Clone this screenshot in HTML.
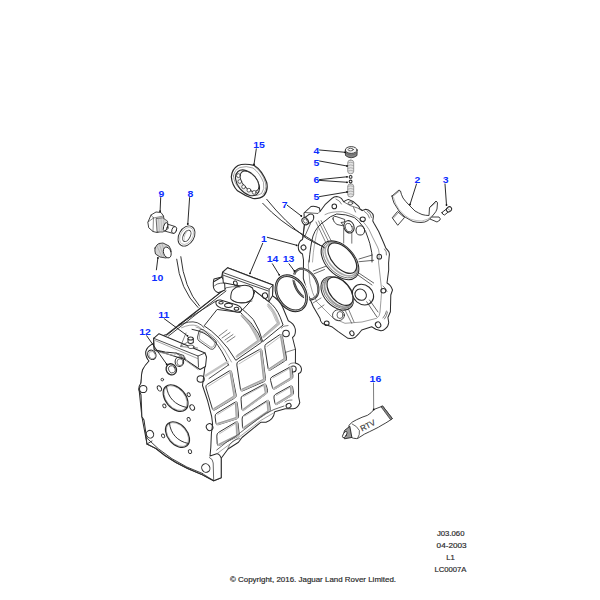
<!DOCTYPE html>
<html><head><meta charset="utf-8">
<style>
html,body{margin:0;padding:0;background:#fff;width:600px;height:600px;overflow:hidden}
svg{position:absolute;left:0;top:0}
.l{font-family:"Liberation Sans",sans-serif;font-weight:bold;font-size:8.6px;fill:#0c2eff}
.t{font-family:"Liberation Sans",sans-serif;font-size:7.6px;fill:#2a2a2a;stroke:#2a2a2a;stroke-width:0.18px}
</style></head><body>
<svg width="600" height="600" viewBox="0 0 600 600">
<g fill="none" stroke="#2b2b2b" stroke-width="0.9" stroke-linejoin="round" stroke-linecap="round" id="draw">
<!-- bearing 15 -->
<g>
<path fill="#fff" d="M231.3 176.7Q232 169 238 165.5Q244 163 254.2 165.4Q262 170 266.7 182.5Q268.5 190 264 195.5Q260 199 253 198.5Q245 196 237.5 190.8Q232 185 231.3 176.7Z" stroke-width="1.20"/>
<path d="M233.5 176Q234.5 169.5 240 167.5Q246 165.5 253 168Q260 173 263.5 182.5Q265 189 261.5 193.5Q257.5 196.5 251.5 195.5Q244 193 239 188Q234 183 233.5 176Z" stroke-width="0.60" stroke="#666"/>
<path d="M254.5 166.5Q262.5 172 265.5 183Q267 190 263 194.5" stroke-width="0.60" stroke="#666"/>
<ellipse cx="247.5" cy="182.8" rx="14.8" ry="9.6" transform="rotate(50 247.5 182.8)" fill="#eee" stroke-width="1.08"/>
<ellipse cx="249.5" cy="181.3" rx="12" ry="7" transform="rotate(50 249.5 181.3)" fill="#fff" stroke-width="0.96"/>
<g fill="#fff" stroke-width="0.72"><circle cx="238.4" cy="175.6" r="1.9"/><circle cx="239.8" cy="181.5" r="1.9"/><circle cx="243.6" cy="186.8" r="1.9"/><circle cx="248.9" cy="190.2" r="1.9"/><circle cx="254.2" cy="192.4" r="1.9"/></g>
</g>
<!-- part 4 cap -->
<g>
<path d="M345.3 150.5L345.5 155.5Q351 160 357 155.5L357.1 150.5Z" fill="#888" stroke="#333"/>
<path d="M345.5 153Q351 157.5 357 153" stroke="#555" stroke-width="0.60"/>
<ellipse cx="351.2" cy="150" rx="5.9" ry="3.4" fill="#f4f4f4" stroke="#333"/>
<ellipse cx="350.7" cy="149.6" rx="2.6" ry="1.3" stroke-width="0.72" fill="#fff"/>
</g>
<!-- springs -->
<g>
<rect x="347.7" y="160" width="6" height="13.800000000000011" rx="3" ry="2.5" fill="#e4e4e4" stroke="#777" stroke-width="0.72"/>
<path d="M348 162.8Q350.7 161.5 353.4 162.8M348 165.5Q350.7 164.2 353.4 165.5M348 168.3Q350.7 167.0 353.4 168.3M348 171.0Q350.7 169.7 353.4 171.0" stroke="#888" stroke-width="0.60"/>
<rect x="347.7" y="183.8" width="6" height="13.199999999999989" rx="3" ry="2.5" fill="#e4e4e4" stroke="#777" stroke-width="0.72"/>
<path d="M348 186.4Q350.7 185.1 353.4 186.4M348 189.1Q350.7 187.8 353.4 189.1M348 191.7Q350.7 190.4 353.4 191.7M348 194.4Q350.7 193.1 353.4 194.4" stroke="#888" stroke-width="0.60"/>
<circle cx="350.6" cy="176.9" r="1.4" fill="#fff" stroke-width="1.08"/>
<circle cx="350.6" cy="181.5" r="1.4" fill="#fff" stroke-width="1.08"/>
</g>
<!-- part 2 bracket -->
<g fill="#fff">
<path d="M392.5 217.5L397.5 211.5L404.5 217.5L398 225Z"/>
<path fill="none" d="M393.5 218L398 213" stroke-width="0.48"/>
<path d="M431 217L439 217Q441 219 440 220L437 222L430 219Z"/>
<path d="M392 196L399 190L400.5 191Q401 194 403 198Q405.5 201.5 409 205Q412 208 415 211Q418.5 213 422 214.5Q425.5 215.5 429 215.5L429.5 207.5L436 201L437.5 202.5L437 209Q436 212 434 214Q431 218 428 220.5Q425 222.5 421 222.5Q417 222.5 413 221.5Q409 219.5 405 217Q402 214.5 399 211Q396.5 207 394 203Q392.5 199 392 196Z"/>
<path fill="none" d="M393.5 197.5Q395 204 399 209.5Q404 215.5 410 219Q416 221 422 221Q428 220 432 216" stroke-width="0.48" stroke="#777"/>
<path fill="none" d="M392.5 196.5L399.5 191M429.5 208L436.5 202" stroke-width="0.48"/>
</g>
<!-- part 3 screw -->
<g fill="#fff" stroke-width="0.96">
<path d="M442 212.5L447 208.5L449.5 211L444.5 215Q442 214.5 442 212.5Z"/>
<ellipse cx="449" cy="209.3" rx="2.8" ry="2.3" transform="rotate(-40 449 209.3)"/>
<path d="M447.5 208.5L450 210.5" stroke-width="0.48"/>
</g>
<!-- bolt 9 -->
<g fill="#fff">
<path d="M164 223L175 226.5L173.5 233.5L164.5 231Z"/>
<ellipse cx="174.2" cy="230" rx="2.3" ry="3.6" transform="rotate(20 174.2 230)"/>
<path d="M148 222L151 215L156 212L161 212.5L163.5 216L164.3 222L164 230L157 232.5L153 231.5L149 228Z"/>
<path fill="none" d="M151 215L153.5 218L161 216.5L163.5 216M153.5 218L153 231.5M148 222L153.5 218" stroke-width="0.54"/>
<path d="M156.5 218.5L162.5 217.8L167.5 221L168.3 228.5L163 232L157.5 232Z" fill="#d8d8d8" stroke-width="0.72"/>
<path fill="none" d="M158.5 218.5L159.5 232M161 218L162 232M163.5 218.5L164.5 231.5" stroke-width="0.42" stroke="#999"/>
<ellipse cx="165.5" cy="226.8" rx="1.9" ry="4.3" transform="rotate(15 165.5 226.8)"/>
</g>
<!-- washer 8 -->
<g>
<ellipse cx="186.5" cy="236" rx="10.8" ry="7.6" transform="rotate(-60 186.5 236)" fill="#fff"/>
<ellipse cx="186.6" cy="235.9" rx="9.2" ry="6" transform="rotate(-60 186.6 235.9)" stroke-width="0.48" stroke="#888"/>
<ellipse cx="186.8" cy="235.8" rx="6.2" ry="3.4" transform="rotate(-62 186.8 235.8)" fill="#fff"/>
<path d="M184 240.5Q183.5 234 188.5 230" stroke-width="0.60" stroke="#999"/>
</g>
<!-- plug 10 -->
<g>
<path d="M155 248Q157 244 159 243.5L163 243L169 246L171 250L170 256L166 258L160 257L155.5 254Q154.5 251 155 248Z" fill="#d4d4d4"/>
<path d="M157 246L162 257M159.5 244.5L164 257.5M162 243.5L166 257" stroke-width="0.42" stroke="#888"/>
<ellipse cx="167.3" cy="252.5" rx="3.7" ry="5.6" transform="rotate(-20 167.3 252.5)" fill="#fff"/>
</g>
<!-- tube 16 -->
<g fill="#fff">
<path d="M349.1 425.1Q352 421.5 356.7 419.7Q362 417 367.5 415.3Q371.5 413 374 409.4L382.7 406.1L392.4 418.6Q389 421 385.9 422.9Q382 425 378.3 427.3Q374 429.5 369.7 431.6Q364 434 359.9 437Q358 438.5 356.7 438.6Q353 438.5 351.3 437.5Z"/>
<path d="M382.7 406.1L392.4 418.6L390.6 419.8L381.2 407Z" fill="#888" stroke-width="0.72"/>
<path fill="none" d="M352.3 424Q357 426 359.4 430.5Q360 434.5 357.8 438" stroke-width="0.72"/>
<path d="M349.5 426.5L344.5 430.5Q342.5 435 344.5 438.8L351.5 437.5Z" fill="#999" stroke-width="0.96"/>
<ellipse cx="344.8" cy="434.6" rx="1.6" ry="3.6" transform="rotate(30 344.8 434.6)" fill="#fff" stroke-width="0.84"/>
<text x="0" y="0" font-family="Liberation Sans" font-size="8" fill="#3a3a3a" stroke="#3a3a3a" stroke-width="0.18" transform="translate(362 431.5) rotate(-27)">RTV</text>
</g>

<!-- cover -->
<g id="cover" stroke-width="1.02">
<path fill="#fff" d="M303.5 260L302.5 254Q298 251.5 298.3 246.5Q298.8 241 302.5 239.5L304.5 224L304 213L311 206.5Q315 205.5 319.5 208L320 211.5L321.5 209.5L325 204.7L332 198.3Q334 196.5 336.7 196.5Q339.5 196.8 341.3 198.3L343.7 201.8L345.4 200.6L348.3 199.4L353.6 201.8L358.8 206.4L360 208.8L362.3 210.5L365.8 209.3Q368.5 209.5 370.5 211.7Q373.5 214 373.4 216.3L372.8 221L374 223.3L378.7 231.5L383.3 242L385.7 247.8L388.6 251.3Q389.8 254 389.2 256L388.6 263L388.7 270L387 283Q391 285 392.5 290L390.8 295L390.4 311.7L387.9 317.5L388.75 322.5Q388 327 385.8 328.3Q383 331 380.8 330.8L375.8 329.2L371.7 326.7L361.7 330L358.3 334.2L355 337.5Q352 338.8 348 338.3L338.3 331.7L331.7 326.7L322.5 323.5Q320 321 320 318.3L313.3 306.7L308.3 295L303.3 278.3Z"/>
<path d="M305 212.5L318 213.5L320 211.5" stroke-width="0.72"/>
<path d="M304.5 224L303 238M310.5 223.5L304.5 237" stroke-width="0.72"/>
<ellipse cx="303.5" cy="247.5" rx="2.4" ry="2.5" transform="rotate(-30 303.5 247.5)"/>
<!-- pin 7 -->
<path fill="#fff" d="M302.3 219.5L308.5 214.8Q311.5 213 313.5 215.5Q314.5 219 312 221.5L306.5 224.8Z"/>
<ellipse cx="305.2" cy="221.2" rx="3" ry="3.7" transform="rotate(-35 305.2 221.2)" fill="#fff"/>
<ellipse cx="305.4" cy="221" rx="1.8" ry="2.3" transform="rotate(-35 305.4 221)" stroke-width="0.60"/>
<!-- inner flange -->
<path d="M325 214.6Q328 213 332 212.3Q337 211.5 342.5 211.7Q349 213 354.2 215.8Q359 218.5 363.5 222.2Q366.5 225.5 369 229.5L372.5 237L377.5 247Q379 250 379 252.5Q379.2 255 379 258.3L378.5 262L381.7 290Q381 300 380 312Q380 316 376.7 318.3L362 322L345 323.3L333.3 318.3L316.7 301.7Q312 293 310 283.3L308.3 265L309 260" stroke-width="0.72" stroke="#777"/>
<path d="M309 262Q310.5 245 313 236Q316.5 226 325 221Q330 216 336.7 214Q346 214 354.2 217.5Q359 221 362.5 226Q366 231 368 238Q370 243 371 249Q372 253 372 256L372 262" stroke-width="0.96"/>
<path d="M318 229Q314 241 312.5 262" stroke-width="0.60" stroke="#777"/>
<path d="M316 222L326 243M318.5 221L328.5 241.5M321 220.5L331 240.5" stroke-width="0.60"/>
<!-- holes on flange -->
<ellipse cx="334.3" cy="206.4" rx="2.3" ry="2.3"/>
<ellipse cx="350.4" cy="203.2" rx="2.4" ry="1.4" stroke-width="0.72"/>
<ellipse cx="362.7" cy="219.3" rx="2.6" ry="2.3"/>
<ellipse cx="379.3" cy="256.7" rx="2.3" ry="2.4"/>
<ellipse cx="383.3" cy="290.8" rx="2.5" ry="2.2"/>
<ellipse cx="378.1" cy="324.8" rx="2.6" ry="3" transform="rotate(-30 378.1 324.8)"/>
<ellipse cx="351.9" cy="333.3" rx="2" ry="2.5" transform="rotate(-30 351.9 333.3)"/>
<ellipse cx="326.7" cy="323.3" rx="2.4" ry="2.3"/>
<path d="M336 199Q340 200.5 341.5 204M364.5 211.5Q368.5 213.5 369.5 218M367 210.8Q371 213 371.5 217.5" stroke-width="0.60"/>
<path d="M383 286Q386 288 387 291.5M384.5 249Q387 251.5 386.5 255M383 318Q385.5 315 386.5 311M384.5 319Q387 316 387.5 312" stroke-width="0.60"/>
<path d="M344 202L350 205.5L357.5 208L362 210.5M353.5 207.5L355.5 212" stroke-width="0.66"/>
<!-- slot + bosses top -->
<path d="M333 219Q332.5 216 336 216.5L344.8 219.5L344.5 222L341 222.5L344 226L337 224.5Q333.5 222.5 333 219Z" stroke-width="0.84"/>
<path d="M343.7 228V243M351.8 231V243.2" stroke-width="0.66"/>
<ellipse cx="349" cy="226.8" rx="5" ry="6.3" transform="rotate(-20 349 226.8)" fill="#fff"/>
<ellipse cx="348.8" cy="227.6" rx="3.3" ry="4.4" transform="rotate(-20 348.8 227.6)" stroke-width="0.72"/>
<ellipse cx="360.3" cy="230.4" rx="4.3" ry="4.7"/>
<!-- big upper hole -->
<ellipse cx="340" cy="260.3" rx="23" ry="14.2" transform="rotate(47 340 260.3)" fill="#fff" stroke-width="1.08"/>
<ellipse cx="340.4" cy="259.9" rx="21.6" ry="13" transform="rotate(47 340.4 259.9)" stroke-width="0.60"/>
<ellipse cx="341.2" cy="259.2" rx="20" ry="11.6" transform="rotate(47 341.2 259.2)" stroke-width="1.56" stroke="#aaa"/>
<ellipse cx="342.3" cy="258.2" rx="18.4" ry="10" transform="rotate(48 342.3 258.2)" fill="#fff" stroke-width="1.20"/>
<!-- lower hole -->
<ellipse cx="337.3" cy="293.3" rx="19.5" ry="13" transform="rotate(47 337.3 293.3)" fill="#fff" stroke-width="1.08"/>
<ellipse cx="337.7" cy="293" rx="18.2" ry="11.8" transform="rotate(47 337.7 293)" stroke-width="0.60"/>
<ellipse cx="338.8" cy="292.2" rx="17.5" ry="11" transform="rotate(48 338.8 292.2)" stroke-width="1.92" stroke="#999"/>
<ellipse cx="340" cy="291.3" rx="16.5" ry="9.8" transform="rotate(50 340 291.3)" fill="#fff" stroke-width="1.20"/>
<!-- small boss -->
<ellipse cx="363" cy="294.6" rx="11.3" ry="9.6" transform="rotate(40 363 294.6)" fill="#fff"/>
<ellipse cx="360.7" cy="294.7" rx="6" ry="5.3" transform="rotate(40 360.7 294.7)"/>
<ellipse cx="338.5" cy="315.2" rx="6" ry="5.5" stroke-width="0.84"/>
<ellipse cx="340" cy="315" rx="3" ry="3.5" stroke-width="0.72"/>
<!-- ribs -->

<path d="M359 259L372.3 255M359 261.7L373.7 260.3M357.7 272.3L373.7 283M356.5 274L372 285" stroke-width="0.72"/>

<path d="M313.3 271L325.7 266.3M314 273.8L324.5 269.5" stroke-width="0.72"/>
<path d="M366.7 301.7L376.7 316.7M369.5 300L378 312" stroke-width="0.72"/>
<path d="M345 310L351.7 323.3M348 308L354 322" stroke-width="0.60"/>
<path d="M313 303L321 298M318 309L324 305" stroke-width="0.60"/>
</g>

<!-- o-ring 13 -->
<g>
<ellipse cx="306" cy="284" rx="16.5" ry="10.7" transform="rotate(60 306 284)" stroke-width="2.2" stroke="#333"/>
<ellipse cx="306" cy="284" rx="16.5" ry="10.7" transform="rotate(60 306 284)" stroke-width="0.7" stroke="#aaa"/>
<path d="M294 283Q297 291 302 295" stroke-width="0.6" stroke="#333"/>
</g>
<!-- o-ring 14 -->
<g>
<ellipse cx="291.25" cy="293.25" rx="19" ry="13.8" transform="rotate(58 291.25 293.25)" stroke-width="5" stroke="#fff"/>
<ellipse cx="291.25" cy="293.25" rx="18.9" ry="13.7" transform="rotate(58 291.25 293.25)" stroke-width="2.6" stroke="#222"/>
<ellipse cx="291.25" cy="293.25" rx="18.9" ry="13.7" transform="rotate(58 291.25 293.25)" stroke-width="0.8" stroke="#bbb"/>
</g>

<!-- housing -->
<g id="housing" stroke-width="1.02">
<path fill="#fff" d="M153.7 338.3L166.7 334.5L225.3 288.7L214 286Q213 281 214 279L221.7 277L222.5 272.4L227.5 267.8L272.9 285L272.5 295.8Q279 300 282.5 306.7L288.3 320.7Q294 323.5 295.3 329Q296 335.5 292.5 337.5L295.5 349.5L295.4 363Q301 364.5 301.5 369Q301.5 373 298.5 373.5L298.6 396.7L299.8 402.5Q298 408.3 293.3 408.8L285.2 408.8L274.7 411.8Q273.5 420 266 422.3L260.7 422.3L242 437.5L238.5 442.2L228 449L221.2 458.2L221.2 477.7L213.7 480.7L202.5 474.7Q173 463.5 156 448.5L147 444L141.9 416.7L139 389L141 383L142.5 370L149 361Q145.5 357 146 352Q147 347 153.5 344Z"/>
<path d="M166.7 335.3L225.3 288.7M168.5 336L226 291M178.7 324.7L216 301" stroke-width="0.90"/>
<!-- W1 -->
<path d="M217.5 309.5L240.5 312.5Q252 322 258 333Q261 339 261.5 342.3L235.8 360.3Q228 347 219 338Q211 330 204.5 326Z" stroke-width="0.96"/>
<path d="M241.8 315.5Q251 324 256 334Q258.8 339 259 341L236.8 356.5" stroke-width="2.40" stroke="#bdbdbd"/>
<path d="M242.5 317Q250.5 325 255 335L257.5 340.5L237.5 355" stroke-width="0.48" stroke="#777"/>
<!-- W2 -->
<path d="M242.8 309.6Q250 303 253.3 296L255 291L268.8 301.7Q276 307 280.2 317.2L283.1 325L262.7 341.7Q260 330 253.3 319.5Q247 313 242.8 309.6Z" stroke-width="0.96"/>
<path d="M268.3 304.5Q274.5 311 277.5 320L279 323.5L263.3 336.8" stroke-width="2.40" stroke="#bdbdbd"/>
<path d="M267.5 306Q273.3 312 276 321L277.3 323L264 335" stroke-width="0.48" stroke="#777"/>
<!-- arc1 band double line -->
<path d="M196 327Q209 331 217 340Q225 349 231.5 362" stroke-width="0.54" stroke="#555"/>
<!-- rear flange inner -->
<path d="M282.7 337.5L285 349.5L286.5 360" stroke-width="0.60"/>
<path d="M285 352.5L294.7 349.5M285.7 352.5L286.5 360" stroke-width="0.60"/>
<ellipse cx="286" cy="333.5" rx="3.3" ry="3.3"/>
<ellipse cx="293.2" cy="369" rx="3" ry="3"/>
<ellipse cx="288.6" cy="405.7" rx="2.6" ry="2.2" transform="rotate(-30 288.6 405.7)"/>
<path d="M281.3 328Q283 325.5 288 325.5M288.7 365Q290 362.5 295.4 363M285 402Q286.5 400 292 400" stroke-width="0.60"/>
<path d="M236.8 364.7Q236.5 362.5 238.4 361.4L259.6 349.4Q261.5 348.3 261.8 350.5L265.5 378.6Q265.8 380.8 263.8 381.7L242.8 390.8Q240.8 391.7 240.5 389.5Z" stroke-width="0.96"/>
<path d="M260.8 349.8L264.4 379.8L241.6 390.2" stroke-width="2.40" stroke="#bdbdbd"/>
<path d="M239.0 363.9L260.3 350.9L263.4 379.2L242.1 389.1" stroke-width="0.48" stroke="#777"/>
<path d="M264.8 347.2Q264.5 345.0 266.3 343.8L279.7 334.7Q281.5 333.5 281.9 335.7L286.1 357.8Q286.5 360.0 284.6 361.2L270.4 370.0Q268.5 371.2 268.2 369.0Z" stroke-width="0.96"/>
<path d="M281.0 335.1L285.1 359.1L269.1 369.6" stroke-width="2.40" stroke="#bdbdbd"/>
<path d="M266.9 346.6L280.6 336.3L284.1 358.4L269.5 368.5" stroke-width="0.48" stroke="#777"/>
<path d="M205.9 387.6Q205.3 385.5 207.2 384.4L229.3 370.9Q231.2 369.8 231.6 372.0L236.1 394.8Q236.5 397.0 234.6 398.1L214.9 409.9Q213.0 411.0 212.4 408.9Z" stroke-width="0.96"/>
<path d="M230.5 371.3L234.9 396.4L213.7 409.4" stroke-width="2.40" stroke="#bdbdbd"/>
<path d="M208.1 386.4L230.0 372.4L233.8 395.9L214.1 408.3" stroke-width="0.48" stroke="#777"/>
<path d="M241.0 398.9Q240.8 396.7 242.7 395.7L263.9 384.3Q265.8 383.3 266.3 385.4L267.5 390.4Q268.0 392.5 266.2 393.8L243.8 410.0Q242.0 411.3 241.8 409.1Z" stroke-width="0.96"/>
<path d="M264.6 384.6L266.4 392.9L243.1 410.0" stroke-width="2.40" stroke="#bdbdbd"/>
<path d="M243.7 396.5L263.8 385.4L265.2 393.2L243.8 409.0" stroke-width="0.48" stroke="#777"/>
<path d="M270.5 380.1Q270.0 378.0 271.9 376.9L289.8 367.1Q291.7 366.0 292.0 368.2L292.9 375.8Q293.2 378.0 291.3 379.1L274.9 388.9Q273.0 390.0 272.5 387.9Z" stroke-width="0.96"/>
<path d="M290.6 367.3L291.5 378.0L274.0 388.6" stroke-width="2.40" stroke="#bdbdbd"/>
<path d="M272.9 378.0L289.9 368.3L290.3 378.0L274.7 387.7" stroke-width="0.48" stroke="#777"/>
<path d="M215.1 416.5Q214.9 414.3 216.8 413.2L235.2 402.1Q237.1 401.0 237.3 403.2L238.6 416.1Q238.8 418.3 236.7 418.9L218.2 424.7Q216.1 425.3 215.9 423.1Z" stroke-width="0.96"/>
<path d="M236.1 402.4L237.2 417.8L217.3 424.1" stroke-width="2.40" stroke="#bdbdbd"/>
<path d="M217.8 414.4L235.4 403.3L236.0 417.5L218.2 423.3" stroke-width="0.48" stroke="#777"/>
<path d="M242.1 418.7Q242.0 416.5 243.9 415.3L266.9 400.8Q268.8 399.6 269.2 401.8L270.2 408.5Q270.6 410.7 268.8 411.9L244.4 428.1Q242.6 429.3 242.5 427.1Z" stroke-width="0.96"/>
<path d="M267.7 400.9L268.9 411.1L243.7 428.0" stroke-width="2.40" stroke="#bdbdbd"/>
<path d="M244.9 416.0L266.9 401.8L267.8 411.3L244.5 427.1" stroke-width="0.48" stroke="#777"/>
<path d="M273.9 397.7Q273.5 395.5 275.4 394.4L290.3 386.1Q292.2 385.0 292.6 387.2L293.4 392.1Q293.8 394.3 291.9 395.4L277.2 404.3Q275.3 405.4 274.9 403.2Z" stroke-width="0.96"/>
<path d="M291.1 386.3L292.1 394.4L276.4 404.1" stroke-width="2.40" stroke="#bdbdbd"/>
<path d="M276.4 395.4L290.3 387.2L290.9 394.5L277.1 403.1" stroke-width="0.48" stroke="#777"/>
<path d="M216.8 435.7Q216.7 433.5 218.6 432.4L235.8 422.1Q237.7 421.0 238.0 423.2L239.1 433.6Q239.4 435.8 237.4 436.7L219.3 445.4Q217.3 446.3 217.2 444.1Z" stroke-width="0.96"/>
<path d="M236.7 422.4L237.7 435.6L218.4 445.0" stroke-width="2.40" stroke="#bdbdbd"/>
<path d="M219.6 433.7L236.0 423.3L236.5 435.4L219.2 444.1" stroke-width="0.48" stroke="#777"/>
<!-- bottom ridge -->
<path d="M284 406L274 409.5Q265 413 258 419L240.5 432.5Q236 437 228 441L216.7 450" stroke-width="0.72"/>
<path d="M273.5 413L260.7 420.5L243.2 434L238 438Q230 444 217.5 453.3" stroke-width="0.54" stroke="#555"/>
<path d="M228 448Q231 439.5 240 438.5" stroke-width="0.60"/>
<!-- hatch -->
<path d="M219 336L227 330M222 338L230 332.5M225 340L233 334.5M227 342L235 336.5" stroke-width="0.60"/>
<!-- rear boss -->
<path fill="#fff" d="M213.3 282L221.7 277L224.5 281L225 290L218.3 292.8Q213.5 291 213.3 286Z"/>
<path d="M214.2 286.2Q216 283 224 283" stroke-width="0.72"/>
<!-- rear bar -->
<path fill="#fff" d="M222.5 272.4L227.5 267.8L272.9 285L272.5 295.8L268.8 301.7L255 290.8L241.7 286.2L223.3 282.8Z"/>
<path d="M222.5 272.4L269.2 289.2L272.9 285M269.2 289.2L268.8 301.7M223.5 275.3L268.3 291" stroke-width="0.84"/>
<ellipse cx="235.4" cy="283.3" rx="1.8" ry="2.4" transform="rotate(-20 235.4 283.3)"/>
<ellipse cx="265" cy="295.6" rx="2.6" ry="2.8" transform="rotate(-20 265 295.6)"/>
<!-- dome -->
<path fill="#fff" d="M230.8 296Q231.5 290 234 289Q236 286.5 240 286Q248 284 252.5 288Q254.5 292 253.3 296Q252 301 246 302.5Q236 304 230.8 299Z"/>
<path d="M232 300.5Q240 305.5 252 301" stroke-width="0.66"/>
<path d="M225.8 287.8Q232 286 240 287" stroke-width="0.66"/>
<!-- flange w/ 3 holes -->
<path fill="#fff" d="M215.8 302.5Q216.5 299.5 220.5 300L237 305Q241.7 307 241.7 310Q241 312.5 237 312L221 308Q215.8 306 215.8 302.5Z"/>
<ellipse cx="221" cy="302.8" rx="2.2" ry="1.3"/><ellipse cx="228.5" cy="305.3" rx="3.9" ry="2.1"/><ellipse cx="236.5" cy="308.8" rx="2.3" ry="1.5"/>
<!-- front face -->
<path fill="#fff" d="M154.3 349.7L153.5 343.5Q147 346.5 145.8 351.5Q145.3 357 149 361Q144.5 365.5 142.5 370L141.5 375L141 383Q138.5 386 138.8 389.5L141 394.7L141.9 416.7L144 420L145.5 430.5L146.2 438L147 444L156 448.5Q173 463.5 202.5 474.7L213.7 480.7L221.2 477.7L221.2 458.2Q219.5 453.5 216.7 453.7L210 456L210.8 447.5L211.4 433.5L212.6 424L211.7 416.7Q208 400 202.5 385.5L205 366Z"/>
<path d="M146.2 437.5Q169.6 462 202.5 473.5M147 444L152 441" stroke-width="0.90"/>
<path d="M202.5 473.5L213.7 480.7M209.5 457.5Q213 459 213.2 463L213.7 480.7" stroke-width="0.72"/>
<ellipse cx="151.8" cy="354.8" rx="4" ry="4.9" transform="rotate(-30 151.8 354.8)"/><ellipse cx="152.1" cy="355.1" rx="3" ry="3.8" transform="rotate(-30 152.1 355.1)" stroke-width="0.54" stroke="#777"/>
<ellipse cx="143.2" cy="389" rx="3.7" ry="3.6"/>
<ellipse cx="150" cy="434.2" rx="3.6" ry="3.9" transform="rotate(-30 150 434.2)"/>
<ellipse cx="205.8" cy="468" rx="4" ry="4.4" transform="rotate(-30 205.8 468)"/>
<ellipse cx="209.6" cy="427.1" rx="3.2" ry="3.5" transform="rotate(-30 209.6 427.1)"/>
<ellipse cx="200.7" cy="379" rx="3.6" ry="3.3"/>
<ellipse cx="179.4" cy="361.7" rx="4.3" ry="4.7"/><ellipse cx="180" cy="362.2" rx="3" ry="3.4" stroke-width="0.60"/>
<ellipse cx="175.6" cy="398.1" rx="15.2" ry="10" transform="rotate(50 175.6 398.1)" stroke-width="1.20"/>
<ellipse cx="175.6" cy="398.1" rx="14.3" ry="9.2" transform="rotate(50 175.6 398.1)" stroke-width="0.48" stroke="#666"/>
<path d="M166.5 386.5C167.5 397 175 405.5 187 407.5" stroke-width="0.96"/>
<ellipse cx="177.5" cy="434.6" rx="14.6" ry="9.8" transform="rotate(50 177.5 434.6)" stroke-width="1.20"/>
<ellipse cx="177.5" cy="434.6" rx="13.7" ry="9" transform="rotate(50 177.5 434.6)" stroke-width="0.48" stroke="#666"/>
<path d="M169.5 423.5C170.5 433 177 441.5 188.5 443.5" stroke-width="0.96"/>
<g stroke-width="0.90">
<ellipse cx="159.4" cy="388.4" rx="1.9" ry="2.8" transform="rotate(-30 159.4 388.4)"/>
<ellipse cx="188.7" cy="394.7" rx="1.5" ry="2" transform="rotate(-30 188.7 394.7)"/>
<ellipse cx="164.4" cy="405.9" rx="1.5" ry="2" transform="rotate(-30 164.4 405.9)"/>
<ellipse cx="192.2" cy="407.5" rx="2.2" ry="2.9" transform="rotate(-30 192.2 407.5)"/>
<ellipse cx="188.7" cy="419.4" rx="1.5" ry="2" transform="rotate(-30 188.7 419.4)"/>
<ellipse cx="163.1" cy="435.9" rx="1.5" ry="2" transform="rotate(-30 163.1 435.9)"/>
<ellipse cx="190" cy="451.6" rx="1.6" ry="2" transform="rotate(-30 190 451.6)"/>
<ellipse cx="162.3" cy="379.6" rx="1.3" ry="1.3"/>
</g>
<ellipse cx="171.3" cy="369.3" rx="5" ry="5.7" transform="rotate(-30 171.3 369.3)" fill="#fff" stroke-width="1.32"/>
<ellipse cx="171.8" cy="369.3" rx="3.2" ry="3.8" transform="rotate(-30 171.8 369.3)" stroke-width="0.72"/>
<!-- front top bar -->
<path fill="#fff" d="M153.7 338.3L159 333.7L205 353L206.5 357L205.5 366.5L200 369.5L185 359.5L183.5 355.5L176 353L175 353L165 352L154.3 349.7Z"/>
<path d="M153.7 338.3L198 356L205 353M198 356L198.5 367" stroke-width="0.84"/>
<path d="M155 340.5L197.5 358.5" stroke-width="0.54" stroke="#555"/>
<path d="M156 351.5L174 355.5L176 353.5L184.5 356.5L187 361.5L198 369.5" stroke-width="0.96" stroke="#999"/>
<path d="M176 353L185 359" stroke-width="0.60"/>
<!-- lid area -->
<path d="M179 325.5Q189 320 197.3 322.7Q201.5 324.5 204 327.5" stroke-width="0.84"/>
<path d="M181.5 327.8Q190 323.8 196.5 325.6Q199.5 326.8 201.5 329" stroke-width="0.54" stroke="#555"/>
<path d="M192 329.3Q205 331.5 214 340.5Q222 349.5 228.5 365" stroke-width="0.96"/>
<path d="M209 378.5L228.5 365" stroke-width="0.84"/>
<path d="M206 375.5L227.5 362" stroke-width="2.40" stroke="#c4c4c4"/>
<path d="M199.5 330.2Q201.5 328.8 203.5 330L215.5 340.5Q217.3 342.5 216 345L214.5 348Q213 350 210.5 349L199 341Q197.3 339.5 197.5 337.5Z" stroke-width="0.84"/>
<path d="M200.5 332Q202 330.8 203.5 332L213.8 341.3Q215.3 343 214.3 345L213.5 346.5Q212.3 347.8 210.5 347L200.5 340Q199.3 339 199.3 337.5Z" stroke-width="0.54" stroke="#555"/>
<path d="M181 346L187 342.5M186 333L180.5 346.5L197.5 348" stroke-width="0.60"/>
<!-- pin 11 -->
<ellipse cx="191" cy="346.8" rx="3" ry="1.8" fill="#fff" stroke-width="0.72"/>
<path fill="#fff" d="M188 338.5L188 342.5Q190.5 344.5 193.3 342.5L193.3 338.5"/>
<ellipse cx="190.6" cy="338.5" rx="2.6" ry="1.5" fill="#fff"/>
</g>

<!-- curved lines -->
<path d="M176.7 259.2Q180 290 198 307.5" stroke-width="0.96"/>
<path d="M180.8 256.7Q184 288 199.5 306" stroke-width="0.96"/>
<path d="M266.7 199.3Q285 222 306 238Q314 243 323.3 246.7" stroke-width="0.96"/>
<path d="M262.7 203.3Q280 222 302 234Q313 241 324.7 248" stroke-width="0.96"/>

<!-- leaders -->
<g stroke="#222" stroke-width="0.96">
<path d="M256.3 148.8L254 164.5"/>
<path d="M319.5 150L345 152.3"/>
<path d="M319.5 161L347 166"/>
<path d="M319.5 179.6L347 176.8M319.5 180.4L347 182.3"/>
<path d="M319.5 196.6L347 192"/>
<path d="M416.5 184L410 204.5"/>
<path d="M445 184L446.5 205"/>
<path d="M160.7 197.6L160.1 211.2"/>
<path d="M189.6 197.6L187.8 224"/>
<path d="M156.4 269.8L157.9 257.9"/>
<path d="M287.3 205.3L301.3 216"/>
<path d="M267.3 237.3L296.7 245.3"/>
<path d="M262.7 243.3L250 273.3"/>
<path d="M272.4 263.8L279.2 274.8"/>
<path d="M289 263.8L294.4 271"/>
<path d="M164.2 318.7L187.5 335.8"/>
<path d="M146.7 335.8L166.7 364.2"/>
<path d="M373.5 383L373.7 409.5" stroke="#777"/>
</g>
<g fill="#111" stroke="none">
<circle cx="254" cy="164.5" r="0.9"/><circle cx="345" cy="152.3" r="0.9"/><circle cx="347" cy="166" r="0.9"/>
<circle cx="347" cy="176.8" r="0.9"/><circle cx="347" cy="182.3" r="0.9"/><circle cx="347" cy="192" r="0.9"/>
<circle cx="410" cy="204.5" r="0.9"/><circle cx="446.5" cy="205" r="0.9"/><circle cx="160.1" cy="211.2" r="0.9"/>
<circle cx="187.8" cy="224" r="0.9"/><circle cx="157.9" cy="257.9" r="0.9"/><circle cx="301.3" cy="216" r="0.9"/>
<circle cx="296.7" cy="245.3" r="0.9"/><circle cx="250" cy="273.3" r="0.9"/><circle cx="279.2" cy="274.8" r="0.9"/>
<circle cx="294.4" cy="271" r="0.9"/><circle cx="187.5" cy="335.8" r="0.9"/><circle cx="166.7" cy="364.2" r="0.9"/>
<circle cx="373.7" cy="409.5" r="0.9"/>
</g>

</g>
<g id="labels">
<text class="l" transform="translate(259 147.8) scale(1.22 1)" text-anchor="middle">15</text>
<text class="l" transform="translate(316.5 154.3) scale(1.22 1)" text-anchor="middle">4</text>
<text class="l" transform="translate(316.3 166) scale(1.22 1)" text-anchor="middle">5</text>
<text class="l" transform="translate(316.5 183.4) scale(1.22 1)" text-anchor="middle">6</text>
<text class="l" transform="translate(316.3 200.3) scale(1.22 1)" text-anchor="middle">5</text>
<text class="l" transform="translate(417.5 182.7) scale(1.22 1)" text-anchor="middle">2</text>
<text class="l" transform="translate(445.6 182.7) scale(1.22 1)" text-anchor="middle">3</text>
<text class="l" transform="translate(161.5 196.5) scale(1.22 1)" text-anchor="middle">9</text>
<text class="l" transform="translate(190.3 196.5) scale(1.22 1)" text-anchor="middle">8</text>
<text class="l" transform="translate(157.4 280.8) scale(1.22 1)" text-anchor="middle">10</text>
<text class="l" transform="translate(284.7 208) scale(1.22 1)" text-anchor="middle">7</text>
<text class="l" transform="translate(264 242) scale(1.22 1)" text-anchor="middle">1</text>
<text class="l" transform="translate(272.5 262.2) scale(1.22 1)" text-anchor="middle">14</text>
<text class="l" transform="translate(288.6 262.2) scale(1.22 1)" text-anchor="middle">13</text>
<text class="l" transform="translate(163.8 318) scale(1.22 1)" text-anchor="middle">11</text>
<text class="l" transform="translate(145 335) scale(1.22 1)" text-anchor="middle">12</text>
<text class="l" transform="translate(375.4 381.7) scale(1.22 1)" text-anchor="middle">16</text>
</g>
<g id="info">
<text class="t" x="450.7" y="536" text-anchor="middle" textLength="27.5" lengthAdjust="spacingAndGlyphs">J03.060</text>
<text class="t" x="451.6" y="547.6" text-anchor="middle" textLength="30" lengthAdjust="spacingAndGlyphs">04-2003</text>
<text class="t" x="450.4" y="560" text-anchor="middle">L1</text>
<text class="t" x="450.4" y="572.3" text-anchor="middle" textLength="32" lengthAdjust="spacingAndGlyphs">LC0007A</text>
<text class="t" x="313" y="581.7" text-anchor="middle" textLength="166" lengthAdjust="spacingAndGlyphs">© Copyright, 2016. Jaguar Land Rover Limited.</text>
</g>
</svg>
</body></html>
